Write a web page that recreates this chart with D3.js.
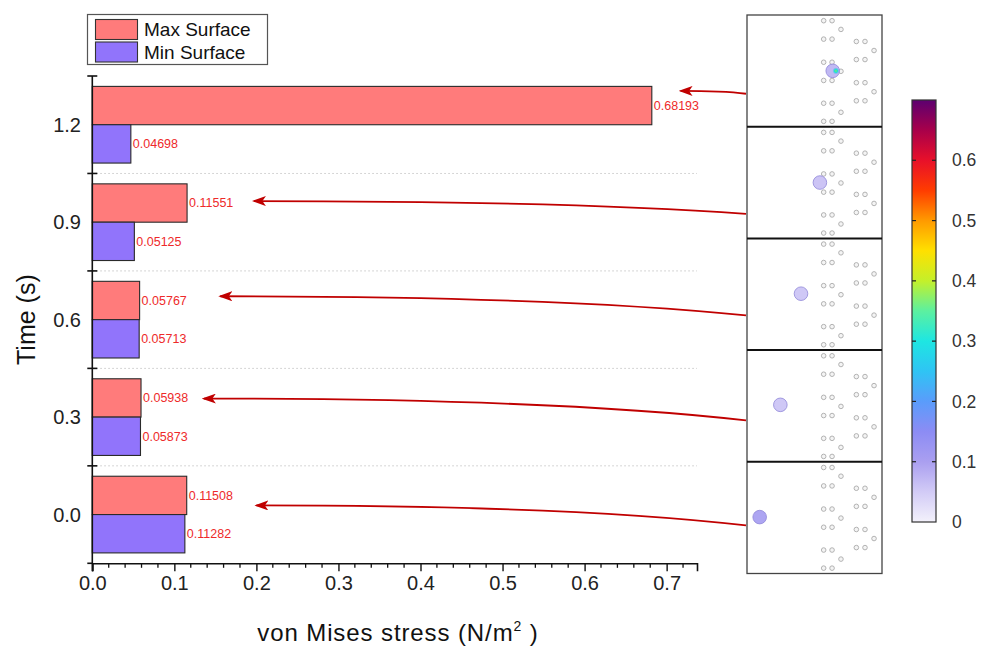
<!DOCTYPE html>
<html>
<head>
<meta charset="utf-8">
<script src="https://cdn.jsdelivr.net/npm/d3@7/dist/d3.min.js"></script>
<style>
  html, body { margin: 0; padding: 0; background: #fff; }
  svg { display: block; font-family: Arial, "Liberation Sans", sans-serif; }
</style>
</head>
<body>
<svg id="chart" width="984" height="647"></svg>
<script>
// ---------------- data ----------------
const times = [0.0, 0.3, 0.6, 0.9, 1.2];
const maxSurface = [0.11508, 0.05938, 0.05767, 0.11551, 0.68193];
const minSurface = [0.11282, 0.05873, 0.05713, 0.05125, 0.04698];
const seriesNames = ["Max Surface", "Min Surface"];
const xTicks = [0.0, 0.1, 0.2, 0.3, 0.4, 0.5, 0.6, 0.7];
const yTicks = [0.0, 0.3, 0.6, 0.9, 1.2];
const yBoundaries = [-0.15, 0.15, 0.45, 0.75, 1.05, 1.35];
const colorbarTicks = [0, 0.1, 0.2, 0.3, 0.4, 0.5, 0.6];
// snapshot panels (top to bottom) and particle values
const panelTimes = [1.2, 0.9, 0.6, 0.3, 0.0];
const particleX = [0.635, 0.54, 0.40, 0.247, 0.094];      // fraction of panel width
const particleY = [0.50, 0.50, 0.495, 0.49, 0.495];        // fraction of panel height
const particleValue = [0.08, 0.065, 0.06, 0.06, 0.11];
// arrows: from panel edge (fraction of panel height) to point in chart data space
const arrowStartY = [0.705, 0.78, 0.69, 0.63, 0.57];
const arrowTipStress = [0.717, 0.197, 0.156, 0.136, 0.2];
const arrowTipTime = [1.304, 0.965, 0.672, 0.357, 0.028];
// hole pattern inside each snapshot (fractions of panel width / height)
const holeCols = {a: 0.568, b: 0.63, c: 0.696, d: 0.81, e: 0.874, f: 0.941};
const holePairLeftRows = [0.051, 0.216, 0.423, 0.586, 0.79, 0.952];
const holeSingleCRows = [0.129, 0.504, 0.871];
const holePairRightRows = [0.237, 0.399, 0.606, 0.768];
const holeSingleFRows = [0.318, 0.687];

// ---------------- setup ----------------
const svg = d3.select("#chart");
const RED = "#ff7b7b", BLUE = "#9174fb", LABEL_RED = "#ee2a2a", ARROW = "#c00000";

const x = d3.scaleLinear().domain([0, 0.737]).range([92.3, 697]);
const y = d3.scaleLinear().domain([-0.15, 1.35]).range([563.3, 76]);
const barH = 0.118;

// colour scale for stress (colorbar)
const cStops = [
  [0.0, "#f3f1fb"], [0.05, "#d2cbf6"], [0.1, "#aa9ff0"], [0.15, "#8c8cf4"],
  [0.2, "#5a9cfb"], [0.25, "#2fc4f4"], [0.3, "#1ee6e2"], [0.35, "#5cf0a0"],
  [0.4, "#c4f02a"], [0.45, "#ffe000"], [0.5, "#ff9a00"], [0.55, "#ff3c00"],
  [0.6, "#e8102a"], [0.65, "#a8004a"], [0.7, "#5c0070"]
];
const color = d3.scaleLinear().domain(cStops.map(d => d[0])).range(cStops.map(d => d[1]));

// ---------------- gridlines ----------------
svg.append("g").selectAll("line")
  .data(yBoundaries.slice(1, -1))
  .join("line")
  .attr("x1", x(0)).attr("x2", x(0.737))
  .attr("y1", d => y(d)).attr("y2", d => y(d))
  .attr("stroke", "#c8c8c8").attr("stroke-width", 1)
  .attr("stroke-dasharray", "1.5,2.5");

// ---------------- bars ----------------
const rows = times.map((t, i) => ({t, max: maxSurface[i], min: minSurface[i]}));
const g = svg.append("g");
g.selectAll("rect.max").data(rows).join("rect")
  .attr("class", "max")
  .attr("x", x(0)).attr("y", d => y(d.t + barH))
  .attr("width", d => x(d.max) - x(0)).attr("height", d => y(d.t) - y(d.t + barH))
  .attr("fill", RED).attr("stroke", "#2a2a2a").attr("stroke-width", 1.1);
g.selectAll("rect.min").data(rows).join("rect")
  .attr("class", "min")
  .attr("x", x(0)).attr("y", d => y(d.t))
  .attr("width", d => x(d.min) - x(0)).attr("height", d => y(d.t - barH) - y(d.t))
  .attr("fill", BLUE).attr("stroke", "#2a2a2a").attr("stroke-width", 1.1);

const fmt = d3.format(".5f");
g.selectAll("text.maxl").data(rows).join("text")
  .attr("x", d => x(d.max) + 2).attr("y", d => y(d.t + barH / 2))
  .attr("dy", "0.35em").attr("font-size", 12.5).attr("fill", LABEL_RED)
  .text(d => fmt(d.max));
g.selectAll("text.minl").data(rows).join("text")
  .attr("x", d => x(d.min) + 2).attr("y", d => y(d.t - barH / 2))
  .attr("dy", "0.35em").attr("font-size", 12.5).attr("fill", LABEL_RED)
  .text(d => fmt(d.min));

// ---------------- axes ----------------
const xAxis = d3.axisBottom(x).tickValues(xTicks).tickFormat(d3.format(".1f"))
  .tickSize(8).tickPadding(5);
const xg = svg.append("g").attr("transform", `translate(0,${y(-0.15)})`).call(xAxis);
xg.attr("font-size", 20).attr("font-family", "Arial, 'Liberation Sans', sans-serif");
xg.select(".domain").attr("stroke", "#111").attr("stroke-width", 1.6);
xg.selectAll(".tick line").attr("stroke", "#111").attr("stroke-width", 1.4);
xg.selectAll("text").attr("font-size", 20).attr("fill", "#222");
// minor x ticks
const minorX = d3.range(0.02, 0.735, 0.02).filter(v => Math.abs(v * 10 - Math.round(v * 10)) > 1e-6);
svg.append("g").selectAll("line").data(minorX).join("line")
  .attr("x1", d => x(d)).attr("x2", d => x(d))
  .attr("y1", y(-0.15)).attr("y2", y(-0.15) + 4.5)
  .attr("stroke", "#111").attr("stroke-width", 1.3);

// y axis
svg.append("line")
  .attr("x1", x(0)).attr("x2", x(0))
  .attr("y1", y(1.35)).attr("y2", y(-0.15) + 8)
  .attr("stroke", "#111").attr("stroke-width", 1.6);
svg.append("g").selectAll("line").data(yBoundaries).join("line")
  .attr("x1", x(0) - 5).attr("x2", d => d === -0.15 ? x(0) : x(0) + 5)
  .attr("y1", d => y(d)).attr("y2", d => y(d))
  .attr("stroke", "#111").attr("stroke-width", 1.6);
svg.append("g").selectAll("text").data(yTicks).join("text")
  .attr("x", 81).attr("y", d => y(d)).attr("dy", "0.36em")
  .attr("text-anchor", "end").attr("font-size", 20).attr("fill", "#222")
  .text(d3.format(".1f"));

// axis titles
svg.append("text")
  .attr("transform", `translate(35,${y(0.6)}) rotate(-90)`)
  .attr("text-anchor", "middle").attr("font-size", 25).attr("fill", "#111")
  .text("Time (s)");
const xt = svg.append("text")
  .attr("x", 398).attr("y", 641).attr("text-anchor", "middle")
  .attr("font-size", 24).attr("letter-spacing", 0.9).attr("fill", "#111");
xt.append("tspan").text("von Mises stress (N/m");
xt.append("tspan").attr("font-size", 14).attr("dy", -10).text("2");
xt.append("tspan").attr("dy", 10).text(" )");

// ---------------- legend ----------------
const lg = svg.append("g");
lg.append("rect").attr("x", 87.5).attr("y", 14.5).attr("width", 180).attr("height", 50)
  .attr("fill", "#fff").attr("stroke", "#555").attr("stroke-width", 1.2);
const legColors = [RED, BLUE];
seriesNames.forEach((name, i) => {
  lg.append("rect").attr("x", 95.5).attr("y", 19.5 + i * 22.5).attr("width", 42).attr("height", 20)
    .attr("fill", legColors[i]).attr("stroke", "#333").attr("stroke-width", 1.1);
  lg.append("text").attr("x", 144).attr("y", 36 + i * 22.5).attr("font-size", 19)
    .attr("fill", "#111").text(name);
});

// ---------------- snapshot panels ----------------
const panelTop = 15, panelBottom = 573.5;
const py = d3.scaleBand().domain(panelTimes).range([panelTop, panelBottom]).padding(0);
const px = d3.scaleLinear().domain([0, 1]).range([747, 882]);
const defs = svg.append("defs");
const hot = defs.append("radialGradient").attr("id", "hot").attr("cx", "0.5").attr("cy", "0.5").attr("r", "0.5");
hot.append("stop").attr("offset", "0%").attr("stop-color", "#7cf060");
hot.append("stop").attr("offset", "45%").attr("stop-color", "#20e0d8");
hot.append("stop").attr("offset", "100%").attr("stop-color", "#6aa0f8").attr("stop-opacity", 0);

const panels = svg.append("g");
panelTimes.forEach((t, i) => {
  const top = py(t), h = py.bandwidth();
  const ly = d3.scaleLinear().domain([0, 1]).range([top, top + h]);
  const pg = panels.append("g");
  pg.append("rect").attr("x", px(0)).attr("y", top).attr("width", px(1) - px(0)).attr("height", h)
    .attr("fill", "#fff");
  const holes = [];
  holePairLeftRows.forEach(r => { holes.push([holeCols.a, r]); holes.push([holeCols.b, r]); });
  holeSingleCRows.forEach(r => holes.push([holeCols.c, r]));
  holePairRightRows.forEach(r => { holes.push([holeCols.d, r]); holes.push([holeCols.e, r]); });
  holeSingleFRows.forEach(r => holes.push([holeCols.f, r]));
  pg.selectAll("circle.hole").data(holes).join("circle")
    .attr("cx", d => px(d[0])).attr("cy", d => ly(d[1])).attr("r", 2.3)
    .attr("fill", "#f4f4f4").attr("stroke", "#aaaaaa").attr("stroke-width", 0.9);
  const cx = px(particleX[i]), cy = ly(particleY[i]);
  pg.append("circle").attr("cx", cx).attr("cy", cy).attr("r", 6.8)
    .attr("fill", color(particleValue[i])).attr("stroke", "#8f86d8").attr("stroke-width", 0.8)
    .attr("fill-opacity", 0.9);
  if (i === 0) {
    pg.append("circle").attr("cx", cx + 3.2).attr("cy", cy).attr("r", 3.6).attr("fill", "url(#hot)");
  }
});
// panel borders
panels.append("rect").attr("x", px(0)).attr("y", panelTop).attr("width", px(1) - px(0))
  .attr("height", panelBottom - panelTop).attr("fill", "none").attr("stroke", "#444").attr("stroke-width", 1.3);
panels.selectAll("line.div").data(panelTimes.slice(1)).join("line")
  .attr("x1", px(0)).attr("x2", px(1)).attr("y1", d => py(d)).attr("y2", d => py(d))
  .attr("stroke", "#111").attr("stroke-width", 2);

// ---------------- arrows ----------------
defs.append("marker").attr("id", "ah").attr("viewBox", "0 0 14 10")
  .attr("refX", 12).attr("refY", 5).attr("markerWidth", 14).attr("markerHeight", 10)
  .attr("markerUnits", "userSpaceOnUse").attr("orient", "auto")
  .append("path").attr("d", "M0,0 L14,5 L0,10 L3.5,5 Z").attr("fill", ARROW);
panelTimes.forEach((t, i) => {
  const top = py(t), h = py.bandwidth();
  const sx = px(0) - 1, sy = top + arrowStartY[i] * h;
  const tx = x(arrowTipStress[i]), ty = y(arrowTipTime[i]);
  const cx = sx - 0.35 * (sx - tx), cy = ty;
  svg.append("path")
    .attr("d", `M${sx},${sy} Q${cx},${cy} ${tx},${ty}`)
    .attr("fill", "none").attr("stroke", ARROW).attr("stroke-width", 1.8)
    .attr("marker-end", "url(#ah)");
});

// ---------------- colorbar ----------------
const cb = d3.scaleLinear().domain([0, 0.7]).range([522, 100]);
const grad = defs.append("linearGradient").attr("id", "cbar")
  .attr("x1", 0).attr("y1", 1).attr("x2", 0).attr("y2", 0);
cStops.forEach(s => grad.append("stop").attr("offset", s[0] / 0.7).attr("stop-color", s[1]));
svg.append("rect").attr("x", 912).attr("y", cb(0.7)).attr("width", 24).attr("height", cb(0) - cb(0.7))
  .attr("fill", "url(#cbar)").attr("stroke", "#333").attr("stroke-width", 1.2);
const cbg = svg.append("g");
colorbarTicks.filter(d => d > 0).forEach(v => {
  cbg.append("line").attr("x1", 912).attr("x2", 916).attr("y1", cb(v)).attr("y2", cb(v))
    .attr("stroke", "#222").attr("stroke-width", 1.2);
  cbg.append("line").attr("x1", 932).attr("x2", 936).attr("y1", cb(v)).attr("y2", cb(v))
    .attr("stroke", "#222").attr("stroke-width", 1.2);
});
cbg.selectAll("text").data(colorbarTicks).join("text")
  .attr("x", 952).attr("y", d => cb(d)).attr("dy", "0.35em")
  .attr("font-size", 17.5).attr("fill", "#333")
  .text(d => d === 0 ? "0" : d3.format(".1f")(d));
</script>
</body>
</html>
